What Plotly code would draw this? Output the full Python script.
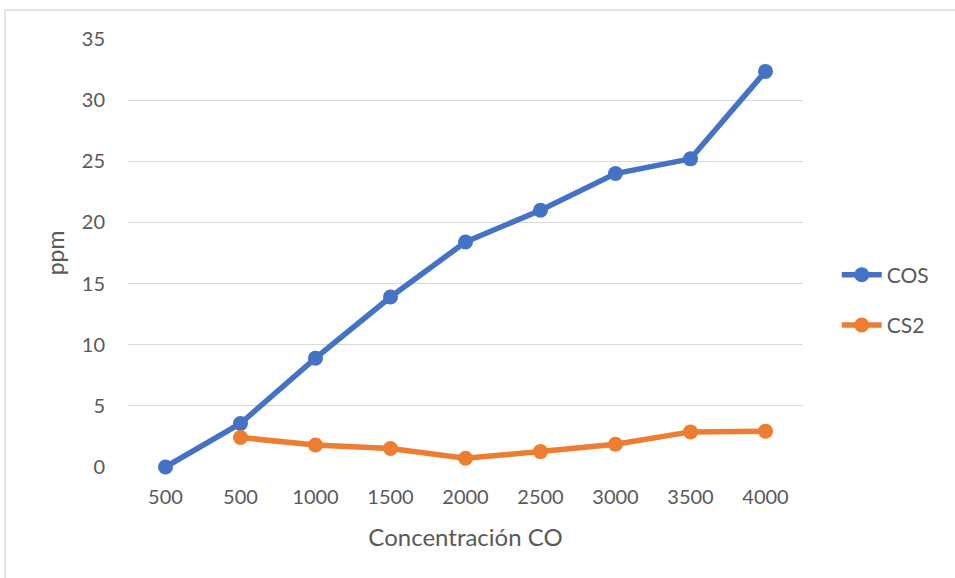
import plotly.graph_objects as go

categories = ["500", "500", "1000", "1500", "2000", "2500", "3000", "3500", "4000"]
cos_values = [0.0, 3.56, 8.9, 13.9, 18.4, 21.0, 24.0, 25.2, 32.35]
cs2_values = [None, 2.41, 1.80, 1.51, 0.71, 1.26, 1.86, 2.87, 2.93]
y_ticks = [0, 5, 10, 15, 20, 25, 30, 35]

idx = list(range(len(categories)))
text_color = "#595959"
font_family = "Lato, 'Open Sans', sans-serif"

fig = go.Figure()
fig.add_trace(go.Scatter(
    x=idx, y=cos_values, name="COS", mode="lines+markers",
    line=dict(color="#4472C4", width=5.5),
    marker=dict(color="#4472C4", size=15),
    legendgroup="a", cliponaxis=False,
))
fig.add_trace(go.Scatter(
    x=idx, y=cs2_values, name="CS2", mode="lines+markers",
    line=dict(color="#ED7D31", width=5.5),
    marker=dict(color="#ED7D31", size=15),
    legendgroup="b", cliponaxis=False,
))

fig.update_layout(
    width=955, height=578,
    margin=dict(l=128, r=151.5, t=39, b=111),
    paper_bgcolor="white", plot_bgcolor="white",
    font=dict(family=font_family, color=text_color, size=20),
    xaxis=dict(
        range=[-0.5, len(categories) - 0.5],
        tickvals=idx, ticktext=categories,
        showgrid=False, zeroline=False, showline=False,
        ticks="", tickfont=dict(size=20, color=text_color),
        ticklabelstandoff=16,
        title=dict(text="Concentración CO", font=dict(size=24, color=text_color), standoff=22),
    ),
    yaxis=dict(
        range=[0, 35], tickvals=y_ticks,
        showgrid=True, gridcolor="#D9D9D9", gridwidth=1.3,
        zeroline=False, showline=False, ticks="",
        tickfont=dict(size=20, color=text_color),
        ticklabelstandoff=22,
        title=dict(text="ppm", font=dict(size=23, color=text_color), standoff=10),
    ),
    legend=dict(
        x=1.05, y=0.39, xanchor="left", yanchor="middle",
        font=dict(size=21, color=text_color),
        tracegroupgap=20, itemwidth=40,
        bgcolor="rgba(0,0,0,0)",
    ),
    showlegend=True,
    shapes=[dict(
        type="rect", xref="paper", yref="paper",
        x0=(5 - 128) / 675.5, x1=(990 - 128) / 675.5,
        y0=(467 - 600) / 428, y1=1 + 29 / 428,
        line=dict(color="#D9D9D9", width=1.3), fillcolor="rgba(0,0,0,0)",
        layer="below",
    )],
)

fig.write_html(
    "out.html",
    config={"displayModeBar": False},
    post_script="document.body.style.margin='0';document.body.style.overflow='hidden';",
)
